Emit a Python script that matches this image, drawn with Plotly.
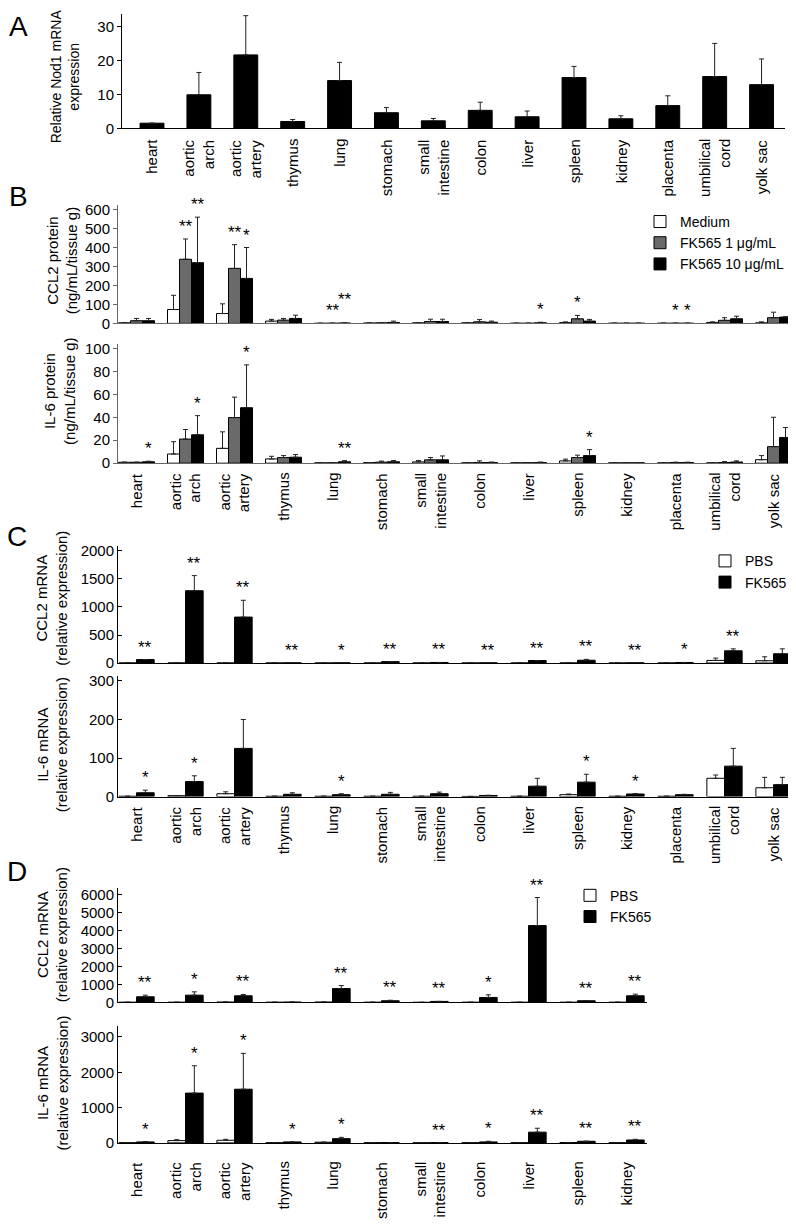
import plotly.graph_objects as go

W, H = 796, 1227
OFF = 8  # the page body margin shifts the figure by 8 px
FONT = "Liberation Sans, Arial, sans-serif"

organs = ["heart", "aortic<br>arch", "aortic<br>artery", "thymus", "lung", "stomach",
          "small<br>intestine", "colon", "liver", "spleen", "kidney", "placenta",
          "umbilical<br>cord", "yolk sac"]
organs_d = organs[:11]

# ---- Panel A: Nod1 mRNA ----
nod1_mean = [1.5, 9.9, 21.7, 2.0, 14.1, 4.6, 2.2, 5.3, 3.4, 15.0, 2.8, 6.7, 15.3, 12.9]
nod1_top = [1.5, 16.5, 33.3, 2.6, 19.5, 6.1, 2.9, 7.7, 5.1, 18.3, 3.7, 9.6, 25.1, 20.5]

# ---- Panel B: CCL2 protein ----
ccl2p_med = [3, 73, 52, 12, 0.5, 2, 3, 3, 1, 4, 1, 1, 5, 3]
ccl2p_med_top = [3, 148, 103, 21, 0.5, 2, 3, 3, 1, 8, 1, 1, 8, 8]
ccl2p_fk1 = [14, 338, 290, 17, 1, 3, 10, 8, 1, 24, 1, 1, 16, 30]
ccl2p_fk1_top = [26, 445, 415, 26, 1, 3, 22, 20, 1, 42, 1, 1, 30, 59]
ccl2p_fk10 = [14, 320, 237, 26, 2, 5, 10, 6, 3, 12, 1, 1, 24, 33]
ccl2p_fk10_top = [26, 560, 400, 43, 2, 12, 22, 12, 6, 21, 1, 1, 38, 35]

# ---- Panel B: IL-6 protein ----
il6p_med = [0.8, 8.0, 12.9, 3.7, 0.3, 0.5, 1.1, 0.3, 0.3, 2.0, 0.3, 0.3, 0.3, 3.0]
il6p_med_top = [0.8, 18.7, 27.3, 6.0, 0.3, 0.5, 2.3, 0.3, 0.3, 3.5, 0.3, 0.3, 0.3, 6.6]
il6p_fk1 = [0.8, 21.0, 39.7, 4.9, 0.3, 0.9, 2.9, 0.6, 0.4, 4.9, 0.3, 0.5, 0.6, 14.4]
il6p_fk1_top = [0.8, 29.3, 57.5, 6.6, 0.3, 1.8, 4.9, 2.0, 0.4, 7.0, 0.3, 0.9, 1.4, 40.0]
il6p_fk10 = [1.2, 24.7, 48.3, 5.2, 1.2, 1.2, 2.9, 0.5, 0.5, 6.6, 0.3, 0.5, 1.0, 22.4]
il6p_fk10_top = [1.7, 41.4, 85.6, 7.5, 2.2, 2.3, 6.3, 1.0, 1.0, 11.8, 0.3, 0.9, 2.0, 31.0]

# ---- Panel C: CCL2 mRNA ----
c_ccl2_pbs = [1, 1, 1, 1, 1, 1, 1, 1, 1, 1, 1, 1, 47, 41]
c_ccl2_pbs_top = [1, 1, 1, 1, 1, 1, 1, 1, 1, 1, 1, 1, 88, 112]
c_ccl2_fk = [62, 1290, 820, 3, 3, 25, 10, 3, 45, 50, 3, 10, 218, 165]
c_ccl2_fk_top = [62, 1560, 1120, 3, 3, 25, 10, 3, 45, 65, 3, 10, 253, 253]

# ---- Panel C: IL-6 mRNA ----
c_il6_pbs = [1, 2.5, 7.5, 1, 1, 1, 1, 0.5, 1, 5, 1, 1, 47.5, 23]
c_il6_pbs_top = [1, 2.5, 12.5, 1, 1, 1, 1, 0.5, 1, 6.7, 1, 1, 56, 50]
c_il6_fk = [10, 39, 125, 6, 5, 6, 7.5, 3, 27, 37.5, 6.7, 5, 79, 31]
c_il6_fk_top = [16.7, 54, 200, 10, 7.5, 11, 11.7, 3.3, 47.5, 58, 8, 6, 125, 50]

# ---- Panel D: CCL2 mRNA ----
d_ccl2_pbs = [10, 10, 20, 10, 20, 10, 5, 10, 10, 10, 10]
d_ccl2_pbs_top = [10, 10, 20, 10, 20, 10, 5, 10, 10, 10, 10]
d_ccl2_fk = [312, 404, 367, 20, 770, 92, 55, 275, 4275, 92, 367]
d_ccl2_fk_top = [404, 587, 440, 20, 936, 120, 55, 422, 5835, 100, 459]

# ---- Panel D: IL-6 mRNA ----
d_il6_pbs = [5, 65, 74, 5, 20, 5, 3, 5, 5, 10, 5]
d_il6_pbs_top = [5, 92, 101, 5, 20, 5, 3, 5, 5, 10, 5]
d_il6_fk = [28, 1410, 1520, 28, 120, 10, 8, 28, 304, 46, 83]
d_il6_fk_top = [37, 2184, 2535, 28, 157, 10, 8, 46, 415, 46, 101]

# significance marks: (organ index, series index, text, extra lift px)
sig_b_ccl2 = [(1, 1, "**", 0), (1, 2, "**", 0), (2, 1, "**", 0), (2, 2, "*", 0),
              (4, 1, "**", 0), (4, 2, "**", 11), (8, 2, "*", 0), (9, 1, "*", 0),
              (11, 1, "*", 0), (11, 2, "*", 0)]
sig_b_il6 = [(0, 2, "*", 0), (1, 2, "*", 0), (2, 2, "*", 0), (4, 2, "**", 0), (9, 2, "*", 0)]
sig_c_ccl2 = [(i, 1, s, 0) for i, s in zip([0, 1, 2, 3, 4, 5, 6, 7, 8, 9, 10, 11, 12],
              ["**", "**", "**", "**", "*", "**", "**", "**", "**", "**", "**", "*", "**"])]
sig_c_il6 = [(0, 1, "*", 0), (1, 1, "*", 0), (4, 1, "*", 0), (9, 1, "*", 0), (10, 1, "*", 0)]
sig_d_ccl2 = [(i, 1, s, 0) for i, s in zip([0, 1, 2, 4, 5, 6, 7, 8, 9, 10],
              ["**", "*", "**", "**", "**", "**", "*", "**", "**", "**"])]
sig_d_il6 = [(i, 1, s, 0) for i, s in zip([0, 1, 2, 3, 4, 6, 7, 8, 9, 10],
             ["*", "*", "*", "*", "*", "**", "*", "**", "**", "**"])]

legend_b = ["Medium", "FK565 1 μg/mL", "FK565 10 μg/mL"]
legend_cd = ["PBS", "FK565"]

GREY = "#6a6a6a"


def px(p):
    return (p - OFF) / W


def py(p):
    return 1 - (p - OFF) / H


fig = go.Figure()
annotations = []


def add_bars(ax, cats, means, tops, color, width, offset, name=None, legend=None):
    errs = [max(t - m, 0) for t, m in zip(tops, means)]
    fig.add_trace(go.Bar(
        x=cats, y=means, width=width, offset=offset,
        marker=dict(color=color, line=dict(color="black", width=1)),
        error_y=dict(type="data", array=errs, arrayminus=[0] * len(errs), symmetric=False,
                     color="#222", thickness=1, width=2.5),
        xaxis="x" + ax, yaxis="y" + ax,
        name=name, showlegend=name is not None, legend=legend or "legend",
    ))


def add_sig(ax, sigs, tops_list, centers, size=17):
    for (i, s, txt, lift) in sigs:
        annotations.append(dict(
            x=i + centers[s], y=tops_list[s][i], xref="x" + ax, yref="y" + ax,
            text=txt, showarrow=False, yanchor="bottom", xanchor="center",
            yshift=1 + lift, font=dict(size=size, family=FONT, color="black")))


def add_xlabels(ax, cats, gap=8, size=15):
    for i, c in enumerate(cats):
        annotations.append(dict(
            x=i, y=0, xref="x" + ax, yref="y" + ax, text=c, showarrow=False,
            textangle=-90, xanchor="center", yanchor="top", align="right",
            yshift=-gap, font=dict(size=size, family=FONT, color="black")))


# A
add_bars("", organs, nod1_mean, nod1_top, "black", 0.51, -0.255)
add_xlabels("", organs, gap=9)

# B
wb = 0.245
offs_b = [-1.5 * wb, -0.5 * wb, 0.5 * wb]
cent_b = [-wb, 0, wb]
colors_b = ["white", GREY, "black"]
for k, (m, t) in enumerate([(ccl2p_med, ccl2p_med_top), (ccl2p_fk1, ccl2p_fk1_top),
                            (ccl2p_fk10, ccl2p_fk10_top)]):
    add_bars("2", organs, m, t, colors_b[k], wb, offs_b[k], name=legend_b[k], legend="legend")
for k, (m, t) in enumerate([(il6p_med, il6p_med_top), (il6p_fk1, il6p_fk1_top),
                            (il6p_fk10, il6p_fk10_top)]):
    add_bars("3", organs, m, t, colors_b[k], wb, offs_b[k])
add_sig("2", sig_b_ccl2, [ccl2p_med_top, ccl2p_fk1_top, ccl2p_fk10_top], cent_b)
add_sig("3", sig_b_il6, [il6p_med_top, il6p_fk1_top, il6p_fk10_top], cent_b)
add_xlabels("3", organs)

# C
wc = 0.36
offs_c = [-wc, 0]
cent_c = [-wc / 2, wc / 2]
colors_c = ["white", "black"]
for k, (m, t) in enumerate([(c_ccl2_pbs, c_ccl2_pbs_top), (c_ccl2_fk, c_ccl2_fk_top)]):
    add_bars("4", organs, m, t, colors_c[k], wc, offs_c[k], name=legend_cd[k], legend="legend2")
for k, (m, t) in enumerate([(c_il6_pbs, c_il6_pbs_top), (c_il6_fk, c_il6_fk_top)]):
    add_bars("5", organs, m, t, colors_c[k], wc, offs_c[k])
add_sig("4", sig_c_ccl2, [c_ccl2_pbs_top, c_ccl2_fk_top], cent_c)
add_sig("5", sig_c_il6, [c_il6_pbs_top, c_il6_fk_top], cent_c)
add_xlabels("5", organs)

# D
for k, (m, t) in enumerate([(d_ccl2_pbs, d_ccl2_pbs_top), (d_ccl2_fk, d_ccl2_fk_top)]):
    add_bars("6", organs_d, m, t, colors_c[k], wc, offs_c[k], name=legend_cd[k], legend="legend3")
for k, (m, t) in enumerate([(d_il6_pbs, d_il6_pbs_top), (d_il6_fk, d_il6_fk_top)]):
    add_bars("7", organs_d, m, t, colors_c[k], wc, offs_c[k])
add_sig("6", sig_d_ccl2, [d_ccl2_pbs_top, d_ccl2_fk_top], cent_c)
add_sig("7", sig_d_il6, [d_il6_pbs_top, d_il6_fk_top], cent_c)
add_xlabels("7", organs_d, gap=17)

# axes
tickfont = dict(family=FONT, size=15, color="black")


def xax(dom, rng, cats, line="black"):
    return dict(domain=[px(dom[0]), px(dom[1])], range=rng, type="category",
                categoryorder="array", categoryarray=cats,
                showline=True, linecolor=line, linewidth=1, ticks="",
                showticklabels=False, showgrid=False, zeroline=False, fixedrange=True)


def yax(dom, rng, dtick, anchor, ticks="outside", line="black"):
    return dict(domain=[py(dom[1]), py(dom[0])], range=rng, dtick=dtick, tick0=0,
                showline=True, linecolor=line, linewidth=1, ticks=ticks, ticklen=4,
                tickcolor=line, tickfont=tickfont, showgrid=False, zeroline=False,
                anchor=anchor, fixedrange=True)


xB = [118, 793]
rB = [-0.378, 13.398]
xD = [118, 647]
rD = [-0.378, 10.418]

legfont = dict(size=14, family=FONT, color="black")
layout = dict(
    width=W, height=H, margin=dict(l=0, r=0, t=0, b=0),
    paper_bgcolor="white", plot_bgcolor="rgba(0,0,0,0)",
    font=dict(family=FONT, color="black"),
    barmode="overlay",
    xaxis=xax([122, 785], [-0.64, 13.5], organs),
    yaxis=yax([9, 124.5], [0, 33.8], 10, "x"),
    xaxis2=xax(xB, rB, organs, "#666"),
    yaxis2=yax([201.7, 321.7], [0, 626], 100, "x2", line="#666"),
    xaxis3=xax(xB, rB, organs, "#666"),
    yaxis3=yax([343, 463], [0, 103.4], 20, "x3", line="#666"),
    xaxis4=xax(xB, rB, organs),
    yaxis4=yax([547, 665], [0, 2083], 500, "x4", ticks="inside"),
    xaxis5=xax(xB, rB, organs),
    yaxis5=yax([678, 800], [0, 313], 100, "x5", ticks="inside"),
    xaxis6=xax(xD, rD, organs_d),
    yaxis6=yax([892, 1008], [0, 6385], 1000, "x6", ticks="inside"),
    xaxis7=xax(xD, rD, organs_d),
    yaxis7=yax([1032, 1150], [0, 3305], 1000, "x7", ticks="inside"),
    legend=dict(x=px(640), y=py(203), xanchor="left", yanchor="top",
                font=legfont, bgcolor="rgba(0,0,0,0)", traceorder="normal"),
    legend2=dict(x=px(705), y=py(546), xanchor="left", yanchor="top",
                 font=legfont, bgcolor="rgba(0,0,0,0)", traceorder="normal"),
    legend3=dict(x=px(570), y=py(884), xanchor="left", yanchor="top",
                 font=legfont, bgcolor="rgba(0,0,0,0)", traceorder="normal"),
)
for i in range(1, 8):
    k = "xaxis" if i == 1 else f"xaxis{i}"
    layout[k]["anchor"] = "y" if i == 1 else f"y{i}"

# panel letters
annotations.append(dict(x=px(18), y=py(OFF), xref="paper", yref="paper", text="A",
                        showarrow=False, xanchor="center", yanchor="top", yshift=4,
                        font=dict(size=28, family=FONT, color="black")))
for letter, (lx, ly) in {"B": (18, 193), "C": (17, 537), "D": (17, 876)}.items():
    annotations.append(dict(x=px(lx), y=py(ly), xref="paper", yref="paper", text=letter,
                            showarrow=False, xanchor="center", yanchor="middle",
                            font=dict(size=28, family=FONT, color="black")))

# y titles: (text, centre x px, centre y px, font size)
ytitles = [
    ("Relative Nod1 mRNA<br>expression", 65, 72, 14),
    ("CCL2 protein<br>(ng/mL/tissue g)", 62, 258, 15),
    ("IL-6 protein<br>(ng/mL/tissue g)", 60, 390, 15),
    ("CCL2 mRNA<br>(relative expression)", 52, 600, 15),
    ("IL-6 mRNA<br>(relative expression)", 52, 748, 15),
    ("CCL2 mRNA<br>(relative expression)", 52, 940, 15),
    ("IL-6 mRNA<br>(relative expression)", 53, 1090, 15),
]
for txt, tx, ty, fs in ytitles:
    annotations.append(dict(x=px(tx), y=py(ty), xref="paper", yref="paper", text=txt,
                            showarrow=False, textangle=-90, xanchor="center", yanchor="middle",
                            font=dict(size=fs, family=FONT, color="black")))

layout["annotations"] = annotations
fig.update_layout(**layout)
fig.write_html("out.html")
